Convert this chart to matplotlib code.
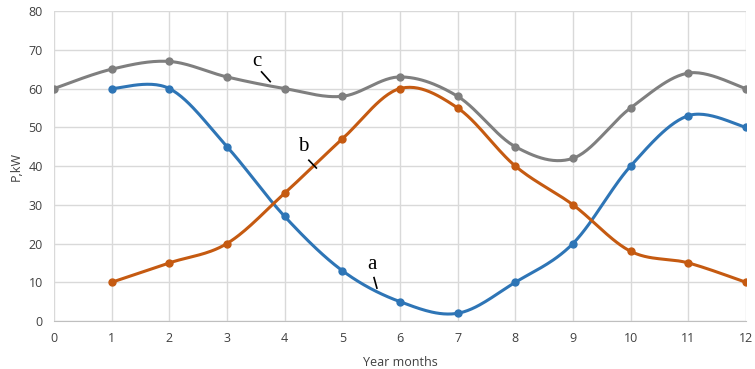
import numpy as np
import matplotlib
matplotlib.use('Agg')
import matplotlib.pyplot as plt

months_a = [1, 2, 3, 4, 5, 6, 7, 8, 9, 10, 11, 12]
power_a = [60, 60, 45, 27, 13, 5, 2, 10, 20, 40, 53, 50]
months_b = [1, 2, 3, 4, 5, 6, 7, 8, 9, 10, 11, 12]
power_b = [10, 15, 20, 33, 47, 60, 55, 40, 30, 18, 15, 10]
months_c = [0, 1, 2, 3, 4, 5, 6, 7, 8, 9, 10, 11, 12]
power_c = [60, 65, 67, 63, 60, 58, 63, 58, 45, 42, 55, 64, 60]


def smooth(x, y, n=30):
    # Excel-like smoothed line (Catmull-Rom through the points)
    x = np.asarray(x, float)
    y = np.asarray(y, float)
    px = np.concatenate([[x[0]], x, [x[-1]]])
    py = np.concatenate([[y[0]], y, [y[-1]]])
    xs, ys = [], []
    t = np.linspace(0, 1, n)
    for i in range(1, len(px) - 2):
        p0, p1, p2, p3 = [np.array([px[j], py[j]]) for j in (i - 1, i, i + 1, i + 2)]
        c1 = p1 + (p2 - p0) / 6
        c2 = p2 - (p3 - p1) / 6
        pts = ((1 - t) ** 3)[:, None] * p1 + (3 * (1 - t) ** 2 * t)[:, None] * c1 \
            + (3 * (1 - t) * t ** 2)[:, None] * c2 + (t ** 3)[:, None] * p2
        xs.extend(pts[:, 0])
        ys.extend(pts[:, 1])
    return xs, ys


plt.rcParams['font.family'] = ['Open Sans', 'DejaVu Sans']
fig = plt.figure(figsize=(7.55, 3.69), dpi=100)
ax = fig.add_axes([0.0715, 0.130, 0.9165, 0.840])

series = [(months_a, power_a, '#2E75B6'),
          (months_b, power_b, '#C55A11'),
          (months_c, power_c, '#7F7F7F')]
for mx, py, col in series:
    sx, sy = smooth(mx, py)
    ax.plot(sx, sy, color=col, lw=2.2, zorder=3, solid_capstyle='round')
    ax.plot(mx, py, 'o', color=col, ms=5, zorder=4)

ax.set_xlim(0, 12)
ax.set_ylim(0, 80)
ax.set_xticks(range(0, 13))
ax.set_yticks(range(0, 81, 10))
ax.grid(True, color='#D9D9D9', lw=1)
ax.set_axisbelow(True)
for s in ax.spines.values():
    s.set_visible(False)
ax.spines['bottom'].set_visible(True)
ax.spines['bottom'].set_color('#BFBFBF')
ax.tick_params(length=0, labelsize=9, colors='#404040', pad=8)
ax.set_xlabel('Year months', fontsize=9, color='#404040', labelpad=8)
ax.set_ylabel('P,kW', fontsize=9, color='#404040', labelpad=4)

# curve labels with leader lines
labels = [('c', 3.52, 67.0, (3.6, 64.3), (3.75, 61.8)),
          ('b', 4.32, 45.0, (4.42, 41.5), (4.55, 39.5)),
          ('a', 5.51, 14.5, (5.55, 11.2), (5.6, 8.5))]
for txt, tx, ty, p1, p2 in labels:
    ax.text(tx, ty, txt, fontsize=15, family='Liberation Serif', ha='center', va='center', zorder=5)
    ax.plot([p1[0], p2[0]], [p1[1], p2[1]], color='black', lw=1.2, zorder=5)

fig.savefig('out.png', dpi=100)
